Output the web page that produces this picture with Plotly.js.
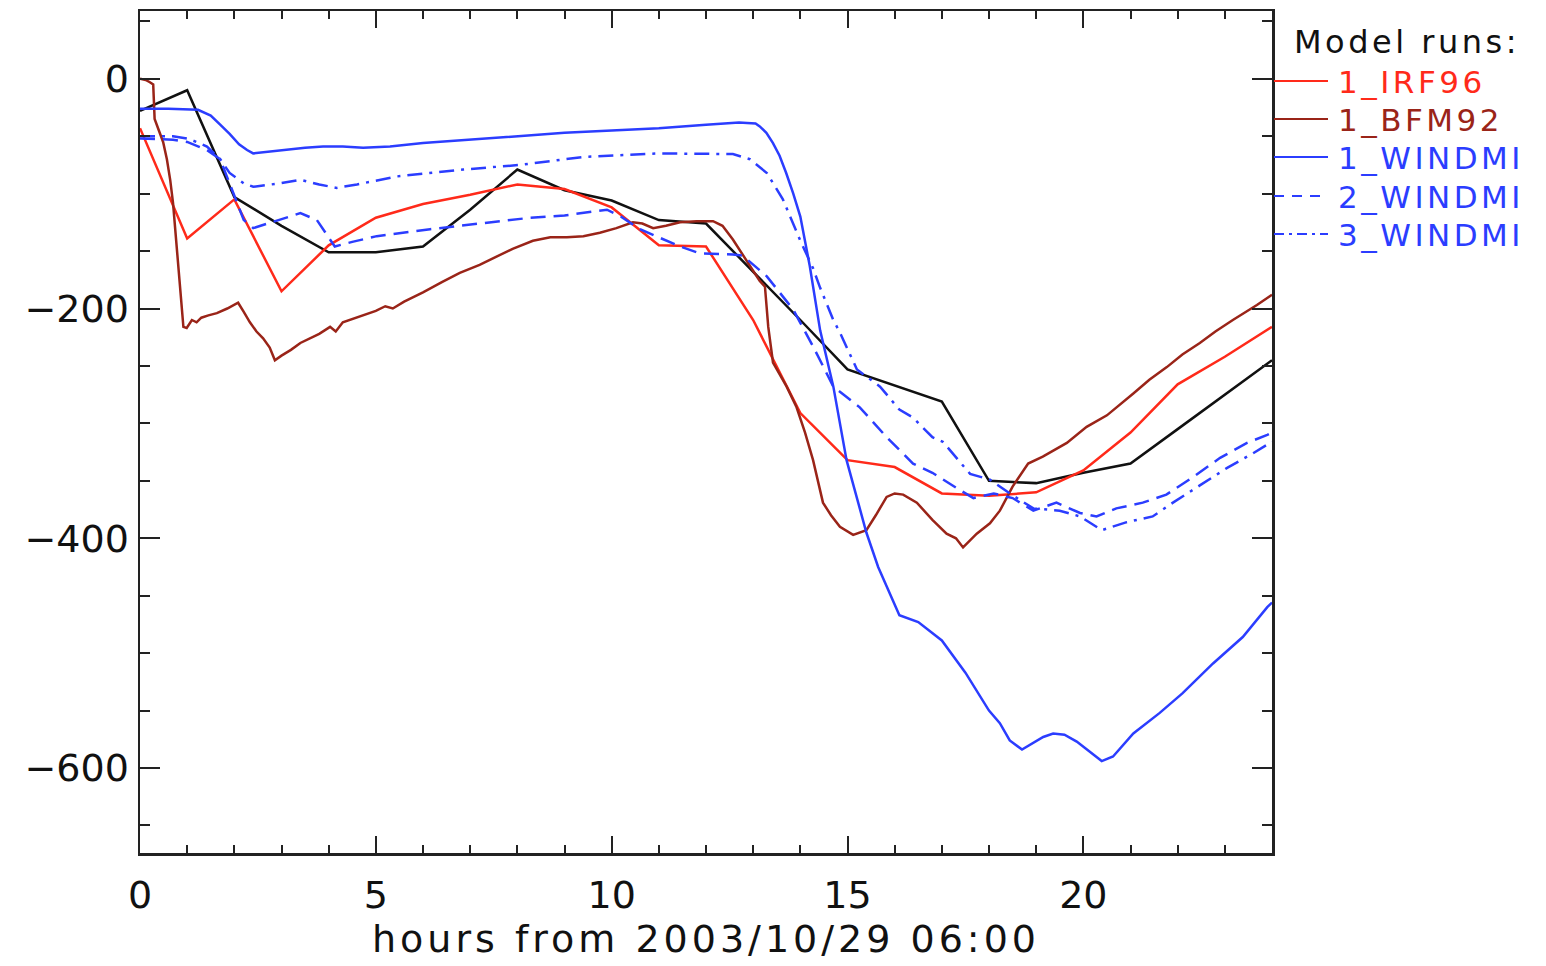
<!DOCTYPE html>
<html>
<head>
<meta charset="utf-8">
<script src="https://cdn.plot.ly/plotly-3.0.1.min.js"></script>
<style>
html,body{margin:0;padding:0;background:#fff;}
#chart{width:1546px;height:966px;}
#chart text.xtitle{letter-spacing:4px;}
#chart text.annotation-text{letter-spacing:3.5px;}
</style>
</head>
<body>
<div id="chart"></div>
<script>
// Observed (black), hourly
const obsHours = [0,1,2,3,4,5,6,7,8,9,10,11,12,13,14,15,16,17,18,19,20,21,22,23,24];
const obsDst = [-28,-10,-103,-128,-151,-151,-146,-114,-79,-97,-106,-123,-126,-168,-210,-253,-267,-281,-350,-352,-343,-335,-305,-275,-245];

// 1_IRF96 (red), hourly
const irfHours = [0,1,2,3,4,5,6,7,8,9,10,11,12,13,14,15,16,17,18,19,20,21,22,23,24];
const irfDst = [-43,-139,-105,-185,-145,-121,-109,-101,-92,-96,-112,-145,-146,-210,-291,-332,-338,-361,-363,-360,-341,-308,-266,-242,-216];

// 1_BFM92 (brown)
const bfmHours = [0,0.12,0.21,0.28,0.31,0.4,0.49,0.57,0.64,0.7,0.78,0.85,0.92,0.99,1.1,1.2,1.3,1.45,1.63,1.85,2.08,2.2,2.33,2.47,2.61,2.75,2.86,3.0,3.2,3.4,3.6,3.8,4.03,4.15,4.3,4.5,4.73,5.0,5.2,5.36,5.6,6.0,6.4,6.78,7.2,7.56,7.9,8.33,8.7,9.05,9.4,9.75,10.1,10.45,10.65,10.88,11.15,11.45,11.8,12.15,12.35,12.57,12.85,13.14,13.25,13.32,13.42,13.71,13.92,14.1,14.27,14.48,14.65,14.84,15.12,15.4,15.6,15.83,16.0,16.18,16.47,16.8,17.1,17.3,17.45,17.6,17.74,18.02,18.23,18.5,18.83,19.14,19.4,19.65,20.07,20.5,21.06,21.4,21.77,22.1,22.47,22.8,23.17,23.68,24];
const bfmDst = [0,-1,-3,-5,-35,-45,-55,-70,-88,-108,-146,-181,-216,-217,-210,-212,-208,-206,-204,-200,-195,-203,-212,-220,-226,-234,-245,-241,-236,-230,-226,-222,-216,-220,-212,-209,-206,-202,-198,-200,-194,-186,-177,-169,-162,-155,-148,-141,-138,-138,-137,-134,-130,-125,-126,-130,-128,-125,-124,-124,-128,-140,-158,-176,-181,-216,-247,-268,-286,-308,-332,-369,-380,-390,-397,-393,-380,-364,-361,-362,-369,-384,-396,-400,-408,-402,-396,-387,-376,-355,-335,-329,-323,-317,-303,-293,-274,-262,-251,-240,-230,-220,-210,-197,-188];

// 1_WINDMI (blue solid)
const w1Hours = [0,0.6,1.23,1.5,1.7,1.9,2.1,2.27,2.4,2.6,3.0,3.5,3.88,4.3,4.73,5.3,6.0,7.0,8.0,9.0,10.0,11.0,12.0,12.44,12.7,12.87,13.05,13.14,13.28,13.42,13.56,13.7,13.85,14.0,14.2,14.42,14.7,14.98,15.2,15.4,15.65,15.9,16.1,16.5,17.0,17.5,18.0,18.23,18.44,18.7,18.94,19.15,19.36,19.6,19.86,20.14,20.39,20.63,21.06,21.62,22.1,22.75,23.38,23.9,24];
const w1Dst = [-26,-26,-27,-32,-40,-48,-57,-62,-65,-64,-62,-60,-59,-59,-60,-59,-56,-53,-50,-47,-45,-43,-40,-39,-38,-38.5,-39,-41.5,-47,-56,-67,-82,-100,-120,-163,-219,-268,-332,-365,-395,-425,-448,-467,-473,-489,-517,-550,-561,-576,-584,-578,-573,-570,-571,-577,-586,-594,-590,-570,-552,-535,-509,-486,-460,-456];

// 2_WINDMI (blue dashed)
const w2Hours = [0,0.7,1.0,1.2,1.42,1.7,1.98,2.2,2.4,2.8,3.4,3.75,4.13,4.5,5.02,6.15,7.0,8.27,9.0,9.9,10.2,10.6,11.45,11.87,12.57,12.78,13.29,13.85,14.27,14.7,15.26,15.83,16.39,16.8,17.38,17.67,18.1,18.5,18.94,19.2,19.43,19.93,20.28,20.7,21.26,21.76,22.32,22.9,23.47,23.9,24];
const w2Dst = [-52,-53,-55,-58,-62,-70,-99,-123,-130,-125,-117,-123,-146,-142,-137,-131,-127,-121,-119,-114,-120,-131,-146,-152,-153,-154,-172,-201,-233,-268,-286,-312,-335,-343,-358,-365,-361,-365,-376,-372,-369,-378,-381,-374,-369,-362,-347,-330,-317,-310,-308];

// 3_WINDMI (blue dash-dot)
const w3Hours = [0,0.7,1.0,1.2,1.42,1.7,1.9,2.2,2.4,2.97,3.4,3.8,4.17,4.6,5.45,6.85,8.06,9.4,11.0,12.0,12.57,12.93,13.29,13.63,14.0,14.27,14.42,14.7,14.84,15.2,15.69,16.1,16.39,16.8,17.02,17.6,18.02,18.44,18.94,19.5,19.93,20.39,20.92,21.47,21.9,22.47,23.04,23.6,23.95,24];
const w3Dst = [-50,-50,-52,-55,-59,-70,-82,-91,-94,-91,-88,-92,-95,-92,-85,-79,-75,-68,-65,-65,-65.5,-70,-82,-105,-141,-165,-182,-210,-221,-253,-268,-288,-295,-312,-316,-344,-349,-361,-374,-376,-381,-393,-386,-381,-369,-354,-339,-326,-317,-316];

const legendTitle = 'Model runs:';
const legendNames = ['1_IRF96','1_BFM92','1_WINDMI','2_WINDMI','3_WINDMI'];
const xTitle = 'hours from 2003/10/29 06:00';

const RED = '#ff2a1a', BROWN = '#9a2418', BLUE = '#2b3dff', BLACK = '#111111';
const FONT = 'DejaVu Sans, sans-serif';

const traces = [
  {x: obsHours, y: obsDst, mode:'lines', name:'observed', line:{color:BLACK, width:2.5}},
  {x: irfHours, y: irfDst, mode:'lines', name:legendNames[0], line:{color:RED, width:2.5}},
  {x: bfmHours, y: bfmDst, mode:'lines', name:legendNames[1], line:{color:BROWN, width:2.5}},
  {x: w1Hours, y: w1Dst, mode:'lines', name:legendNames[2], line:{color:BLUE, width:2.5}},
  {x: w2Hours, y: w2Dst, mode:'lines', name:legendNames[3], line:{color:BLUE, width:2.5, dash:'15px,8px'}},
  {x: w3Hours, y: w3Dst, mode:'lines', name:legendNames[4], line:{color:BLUE, width:2.5, dash:'15px,7px,3px,7px'}}
];

// legend drawn at right of the plot (paper coords)
const W = 1132, H = 842, L = 140, T = 11;
const px = v => (v - L) / W;
const py = v => (T + H - v) / H;
const rowY = [81,119,157,196,234];
const legColors = [RED, BROWN, BLUE, BLUE, BLUE];
const legDash = ['solid','solid','solid','10px,8px','10px,5px,3px,5px'];

const shapes = rowY.map((r,i)=>({type:'line', xref:'paper', yref:'paper', x0:px(1274), x1:px(1328), y0:py(r), y1:py(r), line:{color:legColors[i], width:2, dash:legDash[i]}}));
const annotations = rowY.map((r,i)=>({xref:'paper', yref:'paper', x:px(1336), y:py(r+1), xanchor:'left', yanchor:'middle', align:'left', text:legendNames[i], showarrow:false, font:{family:FONT, size:31, color:legColors[i]}}));
annotations.push({xref:'paper', yref:'paper', x:px(1292), y:py(42), xanchor:'left', yanchor:'middle', align:'left', text:legendTitle, showarrow:false, font:{family:FONT, size:32, color:BLACK}});

const layout = {
  width:1546, height:966,
  margin:{l:140, r:274, t:11, b:113},
  paper_bgcolor:'#fff', plot_bgcolor:'#fff',
  showlegend:false,
  font:{family:FONT, color:BLACK},
  xaxis:{range:[0,24], tick0:0, dtick:5, ticks:'inside', ticklen:17, tickwidth:2, tickcolor:'#222',
         minor:{dtick:1, ticks:'inside', ticklen:8, tickwidth:2, tickcolor:'#222'},
         showline:true, linecolor:'#222', linewidth:2.5, mirror:'ticks', showgrid:false, zeroline:false,
         tickfont:{family:FONT, size:38, color:BLACK}, ticklabelstandoff:7,
         title:{text:xTitle, font:{family:FONT, size:38, color:BLACK}, standoff:8}},
  yaxis:{range:[-674,59], tick0:0, dtick:200, ticks:'inside', ticklen:20, tickwidth:2, tickcolor:'#222',
         minor:{dtick:50, ticks:'inside', ticklen:10, tickwidth:2, tickcolor:'#222'},
         showline:true, linecolor:'#222', linewidth:2.5, mirror:'ticks', showgrid:false, zeroline:false,
         tickfont:{family:FONT, size:38, color:BLACK}, ticklabelstandoff:1},
  shapes: shapes,
  annotations: annotations
};

Plotly.newPlot('chart', traces, layout, {displayModeBar:false, staticPlot:true});
</script>
</body>
</html>
